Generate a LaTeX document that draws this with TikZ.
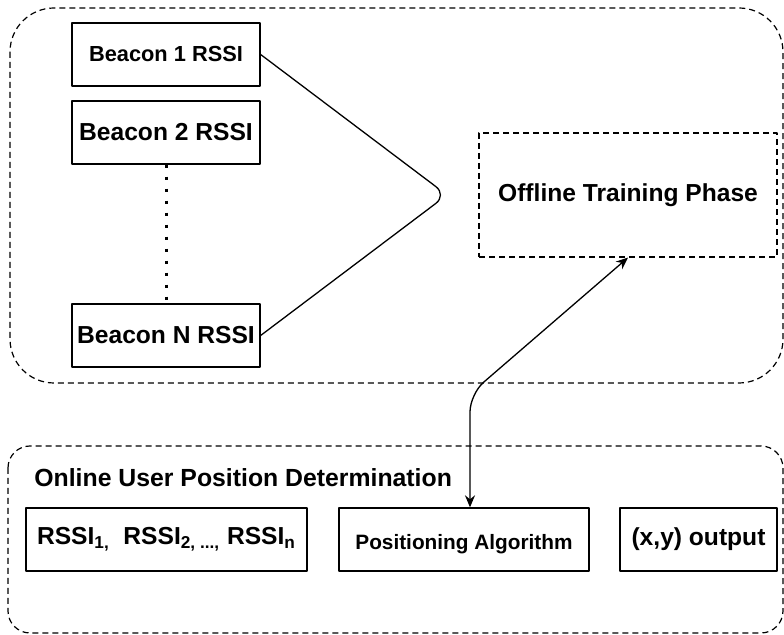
\documentclass[tikz,border=0pt]{standalone}
\usepackage{fontspec}
\setmainfont{Liberation Sans}
\usetikzlibrary{arrows.meta}
\begin{document}
\begin{tikzpicture}[x=0.5pt,y=-0.5pt,>={Stealth[length=6pt,width=5pt]},line join=round,
  font=\bfseries\fontsize{12.3}{14}\selectfont,
  box/.style={draw,line width=0.65pt,minimum height=31.5pt,inner sep=0pt},
  zone/.style={draw,line width=0.6pt,dash pattern=on 3pt off 2pt}]
\useasboundingbox (0,0) rectangle (784,635);
% the two phases
\draw[zone,rounded corners=22pt] (10,8) rectangle (783,383);
\draw[zone,rounded corners=11pt] (8,446) rectangle (783,633);
% beacons
\node[box,minimum width=94pt,font=\bfseries\fontsize{10.9}{13}\selectfont] (b1) at (166,54.5) {Beacon 1 RSSI};
\node[box,minimum width=94pt] (b2) at (166,132.5) {Beacon 2 RSSI};
\node[box,minimum width=94pt] (bn) at (166,335.5) {Beacon N RSSI};
\draw[line width=1.5pt,dash pattern=on 1.5pt off 4.5pt] (b2.south) -- (bn.north);
\node[box,zone,minimum width=149pt,minimum height=62pt] (ot) at (628,195) {Offline Training Phase};
\coordinate (apex) at (447,195);
\draw[line width=0.65pt,rounded corners=7pt] (b1.east) -- (apex) -- (bn.east);
% online part
\node[anchor=west,inner sep=0pt,font=\bfseries\fontsize{12.4}{14}\selectfont] (on) at (34,478) {Online User Position Determination};
\node[box,minimum width=140.5pt] (rs) at (166.5,539.5) {RSSI\textsubscript{1,}\ \ RSSI\textsubscript{2, ...,} RSSI\textsubscript{n}};
\node[box,minimum width=125pt,font=\bfseries\fontsize{10.4}{13}\selectfont,text height=12.5pt,text depth=2.2pt] (pa) at (464,539.5) {Positioning Algorithm};
\node[box,minimum width=78.5pt] (xy) at (698.5,539.5) {(x,y) output};
\coordinate (bend) at (470,394);
\draw[<->,line width=0.65pt,rounded corners=9pt] (ot.south) -- (bend) -- (bend |- pa.north);
\end{tikzpicture}
\end{document}
